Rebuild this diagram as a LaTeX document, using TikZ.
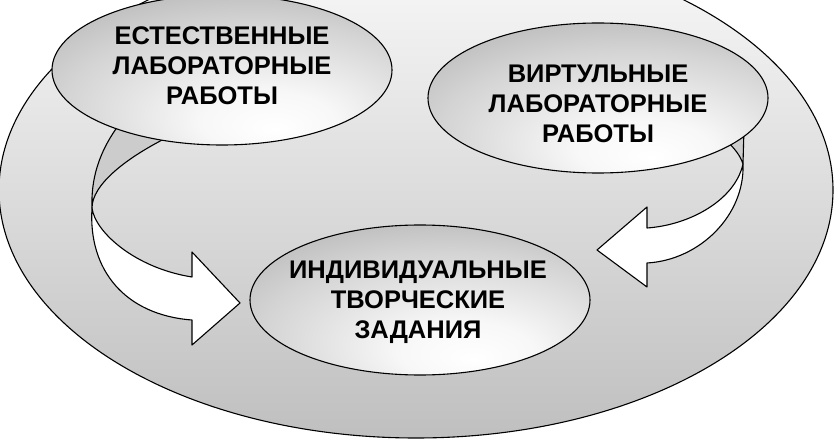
\documentclass[tikz,border=0pt]{standalone}
\usepackage{fontspec}
\setmainfont{Liberation Sans}
\usetikzlibrary{shapes.geometric}
\pgfdeclareradialshading{ellglow}{\pgfpoint{8bp}{-20bp}}{color(0bp)=(white); color(10bp)=(black!3); color(28bp)=(black!17); color(48bp)=(black!36); color(70bp)=(black!42)}
\begin{document}
\begin{tikzpicture}[x=1pt,y=-1pt,
  blob/.style={ellipse, draw=black, line width=1.1pt, shade, shading=ellglow,
    minimum width=340pt, minimum height=150pt, inner sep=0pt},
  txt/.style={align=center, inner sep=0pt, font=\fontsize{25.5}{30}\selectfont\bfseries},
  ribbon/.style={draw=black, line width=1.1pt, fill=white, line join=round},
  ribbonback/.style={draw=black, line width=1.1pt, fill=black!20, line join=round}]
\useasboundingbox (0,0) rectangle (836,441);
% big background ellipse
\begin{scope}
  \clip (0,0) rectangle (836,441);
  \path[draw=black, line width=1.1pt, top color=black!2, middle color=black!9, bottom color=black!25]
    (416,190) ellipse [x radius=417pt, y radius=248pt];
\end{scope}
% left ribbon arrow
\path[ribbonback] (121,122) .. controls (98,152) and (91,180) .. (92,208)
   .. controls (92,185) and (125,158) .. (172,135) -- cycle;
\path[ribbon] (92,208) .. controls (88,270) and (125,315) .. (192,320)
   -- (192,345) -- (240,303) -- (192,252) -- (192,277)
   .. controls (135,268) and (95,232) .. (92,208) -- cycle;
% right ribbon arrow
\path[ribbonback] (744,128) -- (743,164)
   .. controls (740,155) and (735,149) .. (724,138) -- cycle;
\path[ribbon] (743,164) .. controls (745,215) and (700,260) .. (647,263)
   -- (647,287) -- (597,250) -- (647,207) -- (647,228)
   .. controls (690,225) and (735,200) .. (743,164) -- cycle;
% ellipses
\node[blob] (nat) at (222,70) {};
\node[blob] (virt) at (598,98) {};
\node[blob] (ind) at (420,300) {};
\node[txt] (natt) at (222,66) {ЕСТЕСТВЕННЫЕ\\ЛАБОРАТОРНЫЕ\\РАБОТЫ};
\node[txt] (virtt) at (598,104) {ВИРТУЛЬНЫЕ\\ЛАБОРАТОРНЫЕ\\РАБОТЫ};
\node[txt] (indt) at (418,302) {ИНДИВИДУАЛЬНЫЕ\\ТВОРЧЕСКИЕ\\ЗАДАНИЯ};
\end{tikzpicture}
\end{document}
